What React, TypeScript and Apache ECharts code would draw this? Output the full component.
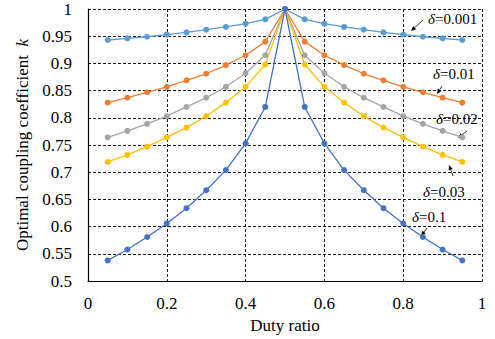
import React, { useEffect, useRef } from "react";
import * as echarts from "echarts";

// Duty ratio samples shared by every curve
const dutyRatio = [0.05, 0.1, 0.15, 0.2, 0.25, 0.3, 0.35, 0.4, 0.45, 0.5, 0.55, 0.6, 0.65, 0.7, 0.75, 0.8, 0.85, 0.9, 0.95];

// Optimal coupling coefficient k for each δ
const kDelta0001 = [0.943, 0.946, 0.949, 0.953, 0.957, 0.962, 0.967, 0.973, 0.981, 1, 0.981, 0.973, 0.967, 0.962, 0.957, 0.953, 0.949, 0.946, 0.943];
const kDelta001 = [0.828, 0.837, 0.847, 0.857, 0.869, 0.881, 0.897, 0.915, 0.94, 1, 0.94, 0.915, 0.897, 0.881, 0.869, 0.857, 0.847, 0.837, 0.828];
const kDelta002 = [0.764, 0.776, 0.789, 0.803, 0.82, 0.837, 0.857, 0.882, 0.915, 1, 0.915, 0.882, 0.857, 0.837, 0.82, 0.803, 0.789, 0.776, 0.764];
const kDelta003 = [0.719, 0.732, 0.747, 0.764, 0.782, 0.803, 0.828, 0.857, 0.898, 1, 0.898, 0.857, 0.828, 0.803, 0.782, 0.764, 0.747, 0.732, 0.719];
const kDelta01 = [0.538, 0.558, 0.581, 0.606, 0.634, 0.667, 0.704, 0.753, 0.82, 1, 0.82, 0.753, 0.704, 0.667, 0.634, 0.606, 0.581, 0.558, 0.538];

const seriesNames = ["δ=0.001", "δ=0.01", "δ=0.02", "δ=0.03", "δ=0.1"];
const seriesValues = [kDelta0001, kDelta001, kDelta002, kDelta003, kDelta01];
const seriesColors = ["#5B9BD5", "#ED7D31", "#A5A5A5", "#FFC000", "#4472C4"];

// Callout labels: the numeric part of each δ tag
const calloutValues = ["0.001", "0.01", "0.02", "0.03", "0.1"];

const FONT = "Liberation Serif";

// Callout placement: text anchor (left, middle) and arrow from -> to
const callouts = [
  { tx: 428, ty: 19, from: [423, 20], to: [411, 31] },
  { tx: 433, ty: 74, from: [442, 86], to: [437, 94] },
  { tx: 436, ty: 119, from: [467, 131], to: [458, 138] },
  { tx: 423, ty: 192, from: [453, 176], to: [449, 165] },
  { tx: 412, ty: 217, from: [427, 228], to: [421, 236] },
];

function arrow(from: number[], to: number[]) {
  const dx = to[0] - from[0];
  const dy = to[1] - from[1];
  const len = Math.sqrt(dx * dx + dy * dy) || 1;
  const ux = dx / len;
  const uy = dy / len;
  const headLen = 5;
  const headW = 2.2;
  const bx = to[0] - ux * headLen;
  const by = to[1] - uy * headLen;
  return [
    {
      type: "line",
      shape: { x1: from[0], y1: from[1], x2: bx, y2: by },
      style: { stroke: "#000", lineWidth: 0.8 },
      silent: true,
    },
    {
      type: "polygon",
      shape: {
        points: [
          [to[0], to[1]],
          [bx - uy * headW, by + ux * headW],
          [bx + uy * headW, by - ux * headW],
        ],
      },
      style: { fill: "#000" },
      silent: true,
    },
  ];
}

export default function App() {
  const ref = useRef<HTMLDivElement>(null);

  useEffect(() => {
    if (!ref.current) return;
    const chart = echarts.init(ref.current, null, { renderer: "svg" });

    const graphics: any[] = [];
    callouts.forEach((c, i) => {
      graphics.push({
        type: "text",
        x: c.tx,
        y: c.ty,
        style: {
          text: "{d|δ}=" + calloutValues[i],
          fontFamily: FONT,
          fontSize: 15,
          fill: "#000",
          verticalAlign: "middle",
          align: "left",
          rich: {
            d: { fontStyle: "italic", fontSize: 15, fontFamily: FONT, fill: "#000" },
          },
        },
        silent: true,
      });
      graphics.push(...arrow(c.from, c.to));
    });

    chart.setOption({
      animation: false,
      backgroundColor: "#fff",
      textStyle: { fontFamily: FONT },
      grid: { left: 88, right: 13, top: 9, bottom: 52, containLabel: false },
      xAxis: {
        type: "value",
        min: 0,
        max: 1,
        interval: 0.2,
        name: "Duty ratio",
        nameLocation: "middle",
        nameGap: 32,
        nameTextStyle: { fontFamily: FONT, fontSize: 17, color: "#000" },
        axisLine: { show: true, lineStyle: { color: "#000", width: 1.2 } },
        axisTick: { show: false },
        axisLabel: { fontFamily: FONT, fontSize: 17, color: "#000", margin: 14 },
        splitLine: { show: true, lineStyle: { color: "#000", type: [3, 2], width: 0.9 } },
      },
      yAxis: {
        type: "value",
        min: 0.5,
        max: 1,
        interval: 0.05,
        name: "Optimal coupling coefficient  {i|k}",
        nameLocation: "middle",
        nameGap: 56,
        nameTextStyle: {
          fontFamily: FONT,
          fontSize: 17,
          color: "#000",
          rich: { i: { fontStyle: "italic", fontFamily: FONT, fontSize: 17, color: "#000" } },
        },
        axisLine: { show: true, lineStyle: { color: "#000", width: 1.2 } },
        axisTick: { show: false },
        axisLabel: { fontFamily: FONT, fontSize: 17, color: "#000", margin: 16 },
        splitLine: { show: true, lineStyle: { color: "#000", type: [3, 2], width: 0.9 } },
      },
      series: seriesValues.map((vals, i) => ({
        name: seriesNames[i],
        type: "line",
        data: dutyRatio.map((x, j) => [x, vals[j]]),
        symbol: "circle",
        symbolSize: 6,
        color: seriesColors[i],
        lineStyle: { color: seriesColors[i], width: 1.3 },
        itemStyle: { color: seriesColors[i] },
        z: 3,
      })),
      graphic: graphics,
    });

    return () => chart.dispose();
  }, []);

  return (
    <div
      ref={ref}
      style={{ position: "fixed", left: 0, top: 0, width: 495, height: 339, background: "#fff" }}
    />
  );
}
